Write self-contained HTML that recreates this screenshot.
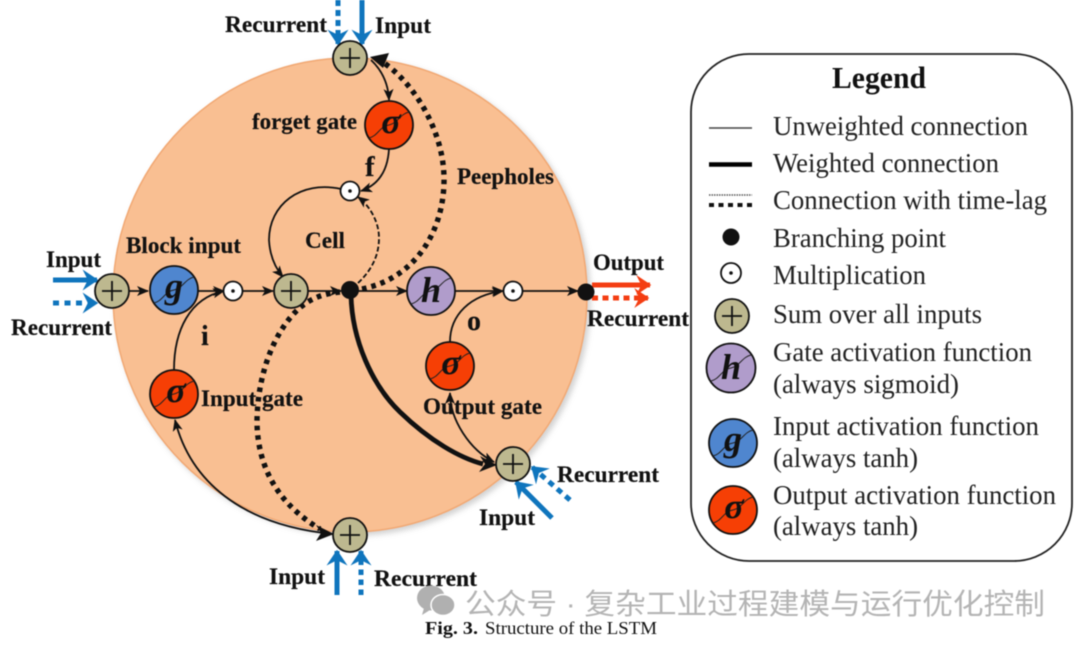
<!DOCTYPE html>
<html><head><meta charset="utf-8"><title>Structure of the LSTM</title>
<style>
html,body{margin:0;padding:0;background:#fff;width:1080px;height:646px;overflow:hidden}
svg{display:block;filter:blur(.45px)}
text{font-family:"Liberation Serif","Noto Serif CJK SC",serif;fill:#111}
.b{font-weight:bold;font-size:23px}
.b text{stroke:#111;stroke-width:.15}
.l{font-size:27px;fill:#222}
.g{font-weight:bold;font-style:italic;font-size:36px;text-anchor:middle;fill:#111}
.w{font-family:"Liberation Sans","Noto Sans CJK SC",sans-serif;font-size:29px;fill:#b4b4b4}
.c{fill:none;stroke:#111;stroke-width:1.8}
.n{stroke:#111;stroke-width:1.8}
.wave{fill:none;stroke:#222;stroke-width:1}
.plus{stroke:#111;stroke-width:1.8;fill:none}
</style></head><body>
<svg width="1080" height="646" viewBox="0 0 1080 646" xmlns="http://www.w3.org/2000/svg">
<defs>
<marker id="a" viewBox="0 0 12 10" refX="11" refY="5" markerWidth="12" markerHeight="10" markerUnits="userSpaceOnUse" orient="auto-start-reverse"><path d="M0 0L12 5L0 10L3 5Z" fill="#111"/></marker>
<marker id="bl" viewBox="0 0 12 16" refX="11" refY="8" markerWidth="16" markerHeight="21" markerUnits="userSpaceOnUse" orient="auto"><path d="M0 0L12 8L0 16L4 8Z" fill="#0f75bd"/></marker>
<marker id="re" viewBox="0 0 12 16" refX="11" refY="8" markerWidth="20" markerHeight="20" markerUnits="userSpaceOnUse" orient="auto"><path d="M0 0L12 8L0 16L4 8Z" fill="#f43d12"/></marker>
<filter id="sh" x="-5%" y="-5%" width="112%" height="112%"><feDropShadow dx="3" dy="3" stdDeviation="3" flood-color="#999" flood-opacity=".45"/></filter>
</defs>

<circle cx="350" cy="295" r="237" fill="#f9bf92" stroke="#f1a873" stroke-width="1.5" filter="url(#sh)"/>

<!-- curves -->
<path class="c" d="M371 60Q388 76 389 100" marker-end="url(#a)"/>
<path class="c" d="M389 149Q387 182 361 191" marker-end="url(#a)"/>
<path class="c" d="M341 189C300 180 269 205 269 240C270 258 277 270 283 277" marker-end="url(#a)"/>
<path class="c" d="M358 283C372 270 379 255 379 238C379 222 370 206 358 197" stroke-dasharray="5 2.5" stroke-width="1.4" marker-end="url(#a)"/>
<path fill="none" stroke="#111" stroke-width="5.4" stroke-dasharray="4.6 5" d="M362 289C420 277 445 225 444 177C443 128 412 82 384 63"/>
<path d="M370 57L389 53L383 68Z" fill="#111"/>
<path fill="none" stroke="#111" stroke-width="5.4" stroke-dasharray="4.6 5" d="M340 292C318 294 303 302 290 318C268 345 257 385 257 423C258 470 280 505 320 529"/>
<path class="c" d="M175 420C190 480 240 525 333 534" marker-start="url(#a)"/>
<path d="M316 525L334 534L316 541L321 533Z" fill="#111"/>
<path fill="none" stroke="#111" stroke-width="4.8" d="M351 295C352 340 372 385 400 412C430 441 460 458 483 464"/>
<path d="M480 456L497 465L479 472L485 464Z" fill="#111"/>
<path class="c" d="M450 393C450 420 470 450 494 462" marker-start="url(#a)" marker-end="url(#a)" stroke-width="1.5"/>
<path class="c" d="M174 370C174 330 190 298 224 291" marker-end="url(#a)"/>
<path class="c" d="M450 342C450 315 470 295 503 291" marker-end="url(#a)"/>

<!-- straight -->
<path class="c" d="M129 291H148" marker-end="url(#a)"/>
<path class="c" d="M198 291H224" marker-end="url(#a)"/>
<path class="c" d="M243 291H273" marker-end="url(#a)"/>
<path class="c" d="M308 291H341" marker-end="url(#a)"/>
<path class="c" d="M350 291H407" marker-end="url(#a)"/>
<path class="c" d="M455 291H503" marker-end="url(#a)"/>
<path class="c" d="M523 291H578" marker-end="url(#a)"/>

<!-- blue arrows -->
<g fill="none" stroke="#0f75bd" stroke-width="5">
<path d="M362 0V44" marker-end="url(#bl)"/>
<path d="M338 0V44" stroke-dasharray="6 4" stroke-width="5" marker-end="url(#bl)"/>
<path d="M53 280H97" marker-end="url(#bl)"/>
<path d="M53 303H97" stroke-dasharray="6 5.5" stroke-width="5" marker-end="url(#bl)"/>
<path d="M337 595V551" marker-end="url(#bl)"/>
<path d="M361 595V551" stroke-dasharray="5.5 4.5" stroke-width="5" marker-end="url(#bl)"/>
<path d="M552 518L516 482" marker-end="url(#bl)"/>
<path d="M570 500L532 467" stroke-dasharray="6 5" stroke-width="5" marker-end="url(#bl)"/>
</g>
<g fill="none" stroke="#f43d12" stroke-width="5">
<path d="M592 285H650" marker-end="url(#re)"/>
<path d="M592 298H648" stroke-dasharray="6 4.5" marker-end="url(#re)"/>
</g>

<!-- sums -->
<g fill="#bdb88f" class="n">
<circle cx="350" cy="58" r="17"/><circle cx="291" cy="291" r="17"/><circle cx="112" cy="291" r="17"/><circle cx="513" cy="464" r="17"/><circle cx="350" cy="535" r="17"/><circle cx="732" cy="316" r="17"/>
</g>
<path class="plus" d="M340 58H360M350 48V68M281 291H301M291 281V301M102 291H122M112 281V301M503 464H523M513 454V474M340 535H360M350 525V545M722 316H742M732 306V326"/>

<!-- mult -->
<g fill="#fff" class="n"><circle cx="350" cy="191" r="9.5"/><circle cx="233" cy="291" r="9.5"/><circle cx="513" cy="291" r="9.5"/><circle cx="731" cy="273" r="10"/></g>
<g fill="#111"><circle cx="350" cy="191" r="1.8"/><circle cx="233" cy="291" r="1.8"/><circle cx="513" cy="291" r="1.8"/><circle cx="731" cy="273" r="1.8"/>
<circle cx="350" cy="290" r="9"/><circle cx="586" cy="292" r="8.5"/><circle cx="731" cy="237" r="8.5"/></g>

<!-- activation nodes -->
<g class="n">
<circle cx="389" cy="125" r="24" fill="#f63f05"/>
<circle cx="174" cy="394" r="24" fill="#f63f05"/>
<circle cx="450" cy="366" r="24" fill="#f63f05"/>
<circle cx="733" cy="510" r="24" fill="#f63f05"/>
<circle cx="174" cy="290" r="24" fill="#4f86cf"/>
<circle cx="733" cy="443" r="24" fill="#4f86cf"/>
<circle cx="431" cy="291" r="24" fill="#b09ccb"/>
<circle cx="731" cy="368" r="24.5" fill="#b09ccb"/>
</g>
<path class="wave" d="M369 138C378 136 380 126 389 125C398 123 400 114 409 112M154 407C163 405 165 395 174 394C183 392 185 383 194 381M430 379C439 377 441 367 450 366C459 364 461 355 470 353M713 523C722 521 724 511 733 510C742 508 744 499 753 497M154 303C163 301 165 291 174 290C183 288 185 279 194 277M713 456C722 454 724 444 733 443C742 441 744 432 753 430M411 304C420 302 422 292 431 291C440 289 442 280 451 278M711 381C720 379 722 369 731 368C740 366 742 357 751 355"/>
<text class="g" x="391" y="133">σ</text>
<text class="g" x="176" y="402">σ</text>
<text class="g" x="451" y="374">σ</text>
<text class="g" x="734" y="518">σ</text>
<text class="g" x="174" y="298">g</text>
<text class="g" x="733" y="451">g</text>
<text class="g" x="431" y="302">h</text>
<text class="g" x="731" y="379">h</text>

<!-- diagram labels -->
<g class="b">
<text x="225" y="32" textLength="102" lengthAdjust="spacingAndGlyphs">Recurrent</text>
<text x="375" y="33" textLength="56" lengthAdjust="spacingAndGlyphs">Input</text>
<text x="46" y="267" textLength="55" lengthAdjust="spacingAndGlyphs">Input</text>
<text x="11" y="335" textLength="101" lengthAdjust="spacingAndGlyphs">Recurrent</text>
<text x="252" y="129" textLength="105" lengthAdjust="spacingAndGlyphs">forget gate</text>
<text x="365" y="176" style="font-size:29px">f</text>
<text x="457" y="184" textLength="97" lengthAdjust="spacingAndGlyphs">Peepholes</text>
<text x="305" y="248" textLength="40" lengthAdjust="spacingAndGlyphs">Cell</text>
<text x="126" y="253" textLength="115" lengthAdjust="spacingAndGlyphs">Block input</text>
<text x="201" y="345" style="font-size:28px">i</text>
<text x="201" y="406" textLength="102" lengthAdjust="spacingAndGlyphs">Input gate</text>
<text x="467" y="330" style="font-size:28px">o</text>
<text x="423" y="414" textLength="119" lengthAdjust="spacingAndGlyphs">Output gate</text>
<text x="593" y="270" textLength="71" lengthAdjust="spacingAndGlyphs">Output</text>
<text x="587" y="326" textLength="102" lengthAdjust="spacingAndGlyphs">Recurrent</text>
<text x="557" y="482" textLength="102" lengthAdjust="spacingAndGlyphs">Recurrent</text>
<text x="479" y="525" textLength="56" lengthAdjust="spacingAndGlyphs">Input</text>
<text x="269" y="584" textLength="56" lengthAdjust="spacingAndGlyphs">Input</text>
<text x="374" y="586" textLength="103" lengthAdjust="spacingAndGlyphs">Recurrent</text>
</g>

<!-- legend -->
<rect x="691" y="54" width="381" height="507" rx="58" ry="58" fill="none" stroke="#222" stroke-width="1.8"/>
<text x="832" y="88" style="font-weight:bold;font-size:31px" textLength="94" lengthAdjust="spacingAndGlyphs">Legend</text>
<path d="M709 128H752" stroke="#444" stroke-width="1.5"/>
<path d="M709 164.500H752" stroke="#000" stroke-width="4.500"/>
<path d="M709 195H752" stroke="#555" stroke-width="1.500" stroke-dasharray="1.500 1"/>
<path d="M709 205H752" stroke="#111" stroke-width="4" stroke-dasharray="5 4.500"/>
<text class="l" x="773" y="135" textLength="255" lengthAdjust="spacingAndGlyphs">Unweighted connection</text>
<text class="l" x="773" y="172" textLength="226" lengthAdjust="spacingAndGlyphs">Weighted connection</text>
<text class="l" x="773" y="209" textLength="274" lengthAdjust="spacingAndGlyphs">Connection with time-lag</text>
<text class="l" x="773" y="247" textLength="173" lengthAdjust="spacingAndGlyphs">Branching point</text>
<text class="l" x="773" y="284" textLength="153" lengthAdjust="spacingAndGlyphs">Multiplication</text>
<text class="l" x="773" y="323" textLength="209" lengthAdjust="spacingAndGlyphs">Sum over all inputs</text>
<text class="l" x="773" y="361" textLength="259" lengthAdjust="spacingAndGlyphs">Gate activation function</text>
<text class="l" x="773" y="393" textLength="186" lengthAdjust="spacingAndGlyphs">(always sigmoid)</text>
<text class="l" x="773" y="435" textLength="266" lengthAdjust="spacingAndGlyphs">Input activation function</text>
<text class="l" x="773" y="467" textLength="145" lengthAdjust="spacingAndGlyphs">(always tanh)</text>
<text class="l" x="773" y="504" textLength="283" lengthAdjust="spacingAndGlyphs">Output activation function</text>
<text class="l" x="773" y="535" textLength="145" lengthAdjust="spacingAndGlyphs">(always tanh)</text>

<!-- watermark -->
<g fill="#b0b0b0"><ellipse cx="431" cy="598" rx="14" ry="12.500"/><path d="M424 608L422 615L430 610Z"/></g>
<ellipse cx="443" cy="605" rx="12" ry="10.500" fill="#b0b0b0" stroke="#fff" stroke-width="1.500"/>
<text class="w" x="465" y="614" textLength="580" lengthAdjust="spacingAndGlyphs">公众号 · 复杂工业过程建模与运行优化控制</text>

<!-- caption -->
<text x="425" y="634" style="font-size:18px;font-weight:bold" textLength="53" lengthAdjust="spacingAndGlyphs">Fig. 3.</text>
<text x="485" y="634" style="font-size:18px" textLength="172" lengthAdjust="spacingAndGlyphs">Structure of the LSTM</text>
</svg>
</body></html>
